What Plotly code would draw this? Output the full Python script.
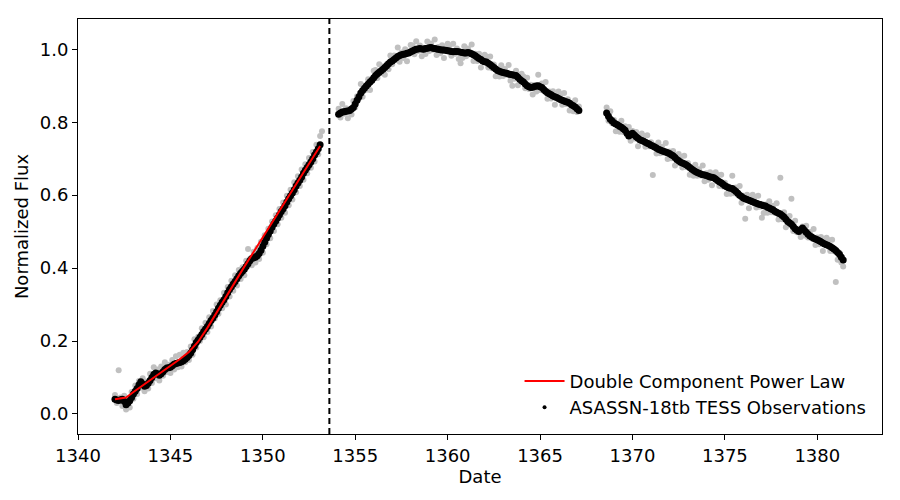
import numpy as np
import plotly.graph_objects as go

# ---------------- data ----------------
cadence = 0.1     # days between samples (raw and binned)
seg_starts = [1342.0, 1354.1, 1368.6]
split_time = 1353.6

raw_flux_1 = [0.052, 0.030, 0.120, 0.045, 0.022, 0.050, 0.012, 0.040, 0.018, 0.060,
              0.042, 0.078, 0.055, 0.090, 0.072, 0.098, 0.062, 0.088, 0.070, 0.110,
              0.085, 0.128, 0.098, 0.122, 0.092, 0.130, 0.105, 0.142, 0.115, 0.135,
              0.112, 0.148, 0.122, 0.158, 0.128, 0.162, 0.130, 0.168, 0.142, 0.170,
              0.148, 0.185, 0.162, 0.205, 0.182, 0.212, 0.200, 0.235, 0.210, 0.250,
              0.225, 0.265, 0.240, 0.282, 0.262, 0.300, 0.275, 0.312, 0.290, 0.332,
              0.300, 0.348, 0.322, 0.365, 0.338, 0.380, 0.352, 0.395, 0.370, 0.402,
              0.380, 0.420, 0.452, 0.425, 0.408, 0.445, 0.415, 0.455, 0.425, 0.472,
              0.442, 0.490, 0.465, 0.508, 0.482, 0.528, 0.502, 0.545, 0.520, 0.562,
              0.538, 0.580, 0.552, 0.598, 0.572, 0.615, 0.588, 0.635, 0.608, 0.652,
              0.625, 0.670, 0.642, 0.685, 0.660, 0.702, 0.675, 0.718, 0.692, 0.738,
              0.712, 0.762, 0.775]

raw_flux_2 = [0.837, 0.813, 0.850, 0.823, 0.838, 0.811, 0.836, 0.821, 0.858, 0.841,
              0.871, 0.866, 0.905, 0.870, 0.899, 0.889, 0.918, 0.888, 0.917, 0.941,
              0.943, 0.921, 0.959, 0.935, 0.953, 0.930, 0.959, 0.945, 0.983, 0.959,
              0.983, 0.972, 1.005, 0.966, 0.991, 0.976, 1.000, 0.967, 0.992, 1.012,
              1.010, 0.986, 1.022, 0.995, 1.010, 0.981, 1.004, 0.987, 1.021, 0.995,
              1.016, 0.999, 1.027, 0.984, 1.006, 0.989, 1.011, 0.976, 0.999, 1.015,
              1.010, 0.982, 1.015, 0.988, 1.002, 0.973, 0.962, 0.976, 1.008, 0.981,
              1.002, 0.986, 1.013, 0.968, 0.988, 0.968, 0.988, 0.950, 0.970, 0.985,
              0.980, 0.950, 0.980, 0.948, 0.958, 0.926, 0.946, 0.925, 0.956, 0.927,
              0.946, 0.930, 0.957, 0.914, 0.900, 0.919, 0.941, 0.901, 0.920, 0.933,
              0.925, 0.893, 0.922, 0.891, 0.903, 0.876, 0.902, 0.884, 0.930, 0.888,
              0.906, 0.886, 0.910, 0.864, 0.884, 0.865, 0.885, 0.848, 0.870, 0.884,
              0.877, 0.848, 0.880, 0.850, 0.863, 0.832, 0.852, 0.830, 0.860, 0.828,
              0.843]

raw_flux_3 = [0.840, 0.804, 0.830, 0.797, 0.806, 0.775, 0.796, 0.774, 0.804, 0.773,
              0.789, 0.766, 0.787, 0.749, 0.776, 0.755, 0.773, 0.734, 0.754, 0.769,
              0.763, 0.733, 0.764, 0.734, 0.745, 0.655, 0.736, 0.714, 0.744, 0.715,
              0.733, 0.716, 0.743, 0.699, 0.720, 0.701, 0.721, 0.681, 0.700, 0.713,
              0.705, 0.676, 0.708, 0.677, 0.688, 0.656, 0.676, 0.653, 0.683, 0.653,
              0.671, 0.654, 0.681, 0.638, 0.660, 0.642, 0.663, 0.627, 0.650, 0.663,
              0.655, 0.625, 0.656, 0.624, 0.634, 0.603, 0.624, 0.604, 0.653, 0.605,
              0.621, 0.601, 0.625, 0.579, 0.598, 0.535, 0.601, 0.564, 0.586, 0.601,
              0.595, 0.566, 0.598, 0.568, 0.538, 0.551, 0.574, 0.552, 0.583, 0.553,
              0.571, 0.552, 0.578, 0.533, 0.648, 0.534, 0.553, 0.512, 0.530, 0.543,
              0.590, 0.502, 0.530, 0.498, 0.508, 0.485, 0.514, 0.489, 0.516, 0.484,
              0.499, 0.481, 0.507, 0.463, 0.484, 0.465, 0.485, 0.447, 0.468, 0.483,
              0.477, 0.447, 0.478, 0.446, 0.362, 0.423, 0.442, 0.415, 0.404]

bin_flux_1 = [0.040, 0.038, 0.037, 0.039, 0.040, 0.035, 0.025, 0.030, 0.036, 0.045,
              0.055, 0.062, 0.070, 0.080, 0.088, 0.082, 0.076, 0.078, 0.084, 0.092,
              0.100, 0.108, 0.112, 0.110, 0.106, 0.110, 0.116, 0.122, 0.126, 0.127,
              0.128, 0.132, 0.136, 0.138, 0.140, 0.141, 0.143, 0.146, 0.150, 0.155,
              0.160, 0.167, 0.176, 0.186, 0.196, 0.203, 0.210, 0.218, 0.226, 0.233,
              0.240, 0.248, 0.256, 0.263, 0.271, 0.280, 0.290, 0.298, 0.306, 0.313,
              0.322, 0.332, 0.341, 0.349, 0.356, 0.363, 0.371, 0.379, 0.386, 0.391,
              0.397, 0.404, 0.412, 0.420, 0.426, 0.428, 0.430, 0.434, 0.440, 0.449,
              0.460, 0.471, 0.482, 0.492, 0.502, 0.512, 0.521, 0.529, 0.537, 0.546,
              0.555, 0.563, 0.571, 0.581, 0.590, 0.598, 0.606, 0.615, 0.625, 0.633,
              0.641, 0.650, 0.660, 0.668, 0.676, 0.683, 0.691, 0.700, 0.710, 0.718,
              0.727, 0.738]

bin_flux_2 = [0.822, 0.825, 0.828, 0.829, 0.830, 0.831, 0.832, 0.836, 0.840, 0.850,
              0.860, 0.870, 0.880, 0.887, 0.893, 0.899, 0.905, 0.910, 0.915, 0.922,
              0.928, 0.933, 0.937, 0.941, 0.945, 0.950, 0.955, 0.960, 0.965, 0.968,
              0.972, 0.976, 0.980, 0.983, 0.985, 0.986, 0.987, 0.989, 0.990, 0.993,
              0.995, 0.998, 1.000, 1.001, 1.002, 1.001, 1.000, 1.002, 1.003, 1.004,
              1.005, 1.003, 1.002, 1.001, 1.000, 0.999, 0.998, 0.998, 0.997, 0.996,
              0.995, 0.994, 0.993, 0.994, 0.994, 0.993, 0.992, 0.991, 0.990, 0.990,
              0.991, 0.990, 0.988, 0.985, 0.982, 0.978, 0.975, 0.972, 0.968, 0.966,
              0.965, 0.962, 0.958, 0.954, 0.950, 0.946, 0.942, 0.940, 0.938, 0.936,
              0.935, 0.934, 0.932, 0.931, 0.930, 0.929, 0.928, 0.923, 0.918, 0.914,
              0.910, 0.905, 0.900, 0.897, 0.895, 0.896, 0.898, 0.899, 0.900, 0.897,
              0.895, 0.890, 0.885, 0.881, 0.878, 0.875, 0.872, 0.870, 0.868, 0.865,
              0.862, 0.860, 0.858, 0.856, 0.855, 0.852, 0.848, 0.845, 0.842, 0.837,
              0.832]

bin_flux_3 = [0.825, 0.816, 0.808, 0.803, 0.798, 0.795, 0.792, 0.789, 0.786, 0.782,
              0.778, 0.770, 0.762, 0.766, 0.770, 0.765, 0.760, 0.756, 0.752, 0.750,
              0.748, 0.745, 0.742, 0.740, 0.737, 0.735, 0.732, 0.729, 0.726, 0.724,
              0.722, 0.720, 0.718, 0.716, 0.714, 0.711, 0.708, 0.703, 0.698, 0.694,
              0.690, 0.688, 0.686, 0.683, 0.680, 0.676, 0.672, 0.668, 0.665, 0.662,
              0.660, 0.658, 0.656, 0.655, 0.654, 0.652, 0.650, 0.649, 0.648, 0.644,
              0.640, 0.637, 0.634, 0.630, 0.626, 0.623, 0.620, 0.619, 0.618, 0.614,
              0.610, 0.605, 0.600, 0.596, 0.592, 0.590, 0.588, 0.586, 0.584, 0.582,
              0.580, 0.578, 0.576, 0.574, 0.573, 0.571, 0.570, 0.567, 0.565, 0.562,
              0.560, 0.556, 0.553, 0.550, 0.548, 0.544, 0.540, 0.534, 0.528, 0.524,
              0.520, 0.514, 0.508, 0.504, 0.500, 0.505, 0.510, 0.504, 0.498, 0.493,
              0.488, 0.485, 0.482, 0.480, 0.478, 0.475, 0.472, 0.469, 0.466, 0.464,
              0.462, 0.459, 0.456, 0.452, 0.448, 0.443, 0.438, 0.430, 0.422]

fit_time = [1342.0, 1342.4, 1342.6, 1343.0, 1343.5, 1344.0, 1344.5, 1345.0, 1345.5,
            1346.0, 1346.5, 1347.0, 1347.5, 1348.0, 1348.5, 1349.0, 1349.5, 1350.0,
            1350.5, 1351.0, 1351.5, 1352.0, 1352.5, 1353.0, 1353.1]
fit_flux = [0.040, 0.042, 0.045, 0.060, 0.078, 0.095, 0.112, 0.130, 0.150,
            0.170, 0.198, 0.236, 0.278, 0.322, 0.364, 0.404, 0.444, 0.484,
            0.524, 0.564, 0.604, 0.644, 0.684, 0.724, 0.735]

x_ticks = [1340, 1345, 1350, 1355, 1360, 1365, 1370, 1375, 1380]
y_ticks = [0.0, 0.2, 0.4, 0.6, 0.8, 1.0]


def times(start, n):
    return list(np.round(start + cadence * np.arange(n), 3))


raw_t, raw_f, bin_t, bin_f = [], [], [], []
for s, rf, bf in zip(seg_starts, [raw_flux_1, raw_flux_2, raw_flux_3],
                     [bin_flux_1, bin_flux_2, bin_flux_3]):
    raw_t += times(s, len(rf))
    raw_f += rf
    bin_t += times(s, len(bf))
    bin_f += bf

FONT = "DejaVu Sans"
FS = 18

fig = go.Figure()
fig.add_trace(go.Scatter(x=raw_t, y=raw_f, mode="markers",
                         marker=dict(color="#c0c0c0", size=6, line=dict(width=0)),
                         showlegend=False, hoverinfo="skip"))
fig.add_trace(go.Scatter(x=bin_t, y=bin_f, mode="markers",
                         marker=dict(color="black", size=7, line=dict(width=0)),
                         showlegend=False, hoverinfo="skip"))
fig.add_trace(go.Scatter(x=fit_time, y=fit_flux, mode="lines",
                         line=dict(color="#ff0000", width=2),
                         name="Double Component Power Law", legendrank=1))
# legend entry for the observations (small dot as in the original legend)
fig.add_trace(go.Scatter(x=[None], y=[None], mode="markers",
                         marker=dict(color="black", size=4),
                         name="ASASSN-18tb TESS Observations", legendrank=2))

fig.add_shape(type="line", x0=split_time, x1=split_time, y0=0, y1=1,
              xref="x", yref="paper", line=dict(color="black", width=2, dash="6px,4px"))

axis_common = dict(showline=True, linecolor="black", linewidth=1, mirror=True,
                   ticks="outside", ticklen=5, tickwidth=1, tickcolor="black",
                   showgrid=False, zeroline=False,
                   tickfont=dict(family=FONT, size=FS, color="black"))

fig.update_xaxes(range=[1340.0, 1383.5], tickvals=x_ticks,
                 title=dict(text="Date", font=dict(family=FONT, size=FS, color="black"),
                            standoff=2),
                 **axis_common)
fig.update_yaxes(range=[-0.055, 1.083], tickvals=y_ticks, tickformat=".1f",
                 title=dict(text="Normalized Flux", font=dict(family=FONT, size=FS, color="black"),
                            standoff=6),
                 **axis_common)

fig.update_layout(
    width=900, height=500,
    margin=dict(l=78, r=18, t=19, b=66),
    plot_bgcolor="white", paper_bgcolor="white",
    font=dict(family=FONT, size=FS, color="black"),
    legend=dict(x=0.987, y=0.02, xanchor="right", yanchor="bottom",
                bgcolor="rgba(0,0,0,0)", font=dict(family=FONT, size=FS),
                itemwidth=40, tracegroupgap=0),
)

fig.write_html("out.html")
